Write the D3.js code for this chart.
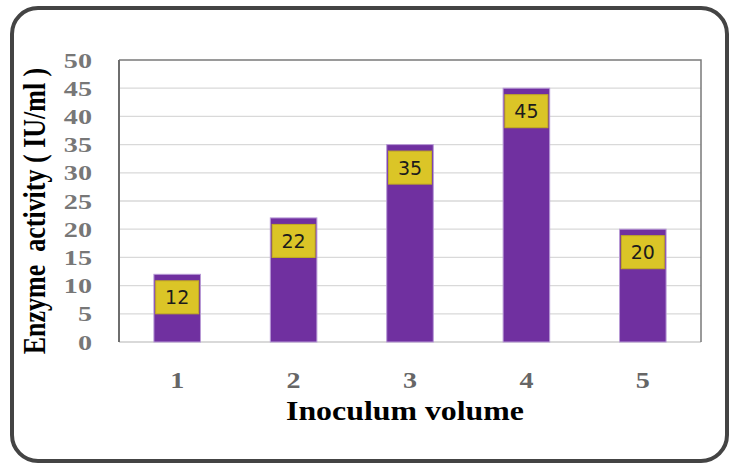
<!DOCTYPE html>
<html>
<head>
<meta charset="utf-8">
<script src="https://cdn.jsdelivr.net/npm/d3@7"></script>
<style>
  html, body { margin: 0; padding: 0; background: #fff; }
  svg { display: block; }
</style>
</head>
<body>
<svg id="chart" width="732" height="465"></svg>
<script>
// Enzyme activity by inoculum volume
const categories = ["1", "2", "3", "4", "5"];
const activity = [12, 22, 35, 45, 20];
const yTicks = [0, 5, 10, 15, 20, 25, 30, 35, 40, 45, 50];
const xTitle = "Inoculum volume";
const yTitle = "Enzyme  activity ( IU/ml )";

const svg = d3.select("#chart");
const plot = { left: 119, right: 701, top: 60, bottom: 342 };

// Rounded outer frame
svg.append("rect")
  .attr("x", 12).attr("y", 8)
  .attr("width", 727 - 12).attr("height", 461 - 8)
  .attr("rx", 26).attr("ry", 26)
  .attr("fill", "#fff")
  .attr("stroke", "#444")
  .attr("stroke-width", 4);

const x = d3.scaleBand()
  .domain(categories)
  .range([plot.left, plot.right])
  .paddingInner(0.6)
  .paddingOuter(0.3);

const y = d3.scaleLinear()
  .domain([0, 50])
  .range([plot.bottom, plot.top]);

// Horizontal gridlines
svg.append("g")
  .selectAll("line")
  .data(yTicks.filter(t => t > 0 && t < 50))
  .join("line")
  .attr("x1", plot.left).attr("x2", plot.right)
  .attr("y1", d => y(d)).attr("y2", d => y(d))
  .attr("stroke", "#d9d9d9")
  .attr("stroke-width", 1.3);

// Baseline (category axis)
svg.append("line")
  .attr("x1", plot.left).attr("x2", plot.right)
  .attr("y1", y(0)).attr("y2", y(0))
  .attr("stroke", "#d9d9d9")
  .attr("stroke-width", 2);

// Plot area border: top and right
svg.append("path")
  .attr("d", `M${plot.left},${plot.top}H${plot.right}V${plot.bottom}`)
  .attr("fill", "none")
  .attr("stroke", "#7a7a7a")
  .attr("stroke-width", 1.5);

// Value axis line
svg.append("line")
  .attr("x1", plot.left).attr("x2", plot.left)
  .attr("y1", plot.top).attr("y2", plot.bottom)
  .attr("stroke", "#6e6e6e")
  .attr("stroke-width", 2);

// Bars
svg.append("g")
  .selectAll("rect")
  .data(activity)
  .join("rect")
  .attr("x", (d, i) => x(categories[i]))
  .attr("y", d => y(d))
  .attr("width", x.bandwidth())
  .attr("height", d => y(0) - y(d))
  .attr("fill", "#7030a0")
  .attr("stroke", "#b89ad6")
  .attr("stroke-width", 1);

// Value labels in yellow boxes near the bar tops
const boxW = 43, boxH = 33, boxGap = 6.5;
const labels = svg.append("g")
  .selectAll("g")
  .data(activity)
  .join("g")
  .attr("transform", (d, i) =>
    `translate(${x(categories[i]) + x.bandwidth() / 2},${y(d) + boxGap})`);

labels.append("rect")
  .attr("x", -boxW / 2).attr("y", 0)
  .attr("width", boxW).attr("height", boxH)
  .attr("fill", "#dbc527")
  .attr("stroke", "#c2ad1f")
  .attr("stroke-width", 1);

labels.append("text")
  .attr("x", 0).attr("y", boxH / 2 + 7)
  .attr("text-anchor", "middle")
  .attr("font-family", "DejaVu Sans, Verdana, sans-serif")
  .attr("font-size", 19)
  .attr("fill", "#1c1c1c")
  .text(d => d);

const serif = "Liberation Serif, Times New Roman, serif";

// Y tick labels
svg.append("g")
  .selectAll("text")
  .data(yTicks)
  .join("text")
  .attr("transform", d => `translate(92,${y(d) + 7.5}) scale(1.28,1)`)
  .attr("text-anchor", "end")
  .attr("font-family", serif)
  .attr("font-weight", "bold")
  .attr("font-size", 22)
  .attr("fill", "#777")
  .text(d => d);

// X tick labels
svg.append("g")
  .selectAll("text")
  .data(categories)
  .join("text")
  .attr("transform", d => `translate(${x(d) + x.bandwidth() / 2},388) scale(1.22,1)`)
  .attr("text-anchor", "middle")
  .attr("font-family", serif)
  .attr("font-weight", "bold")
  .attr("font-size", 23)
  .attr("fill", "#666")
  .text(d => d);

// Axis titles
svg.append("text")
  .attr("transform", `translate(405,420) scale(1.18,1)`)
  .attr("text-anchor", "middle")
  .attr("font-family", serif)
  .attr("font-weight", "bold")
  .attr("font-size", 27)
  .attr("fill", "#000")
  .text(xTitle);

svg.append("text")
  .attr("transform", `translate(45,211) scale(1.2,1) rotate(-90)`)
  .attr("text-anchor", "middle")
  .attr("font-family", serif)
  .attr("font-weight", "bold")
  .attr("font-size", 26)
  .attr("fill", "#000")
  .style("white-space", "pre")
  .text(yTitle);
</script>
</body>
</html>
